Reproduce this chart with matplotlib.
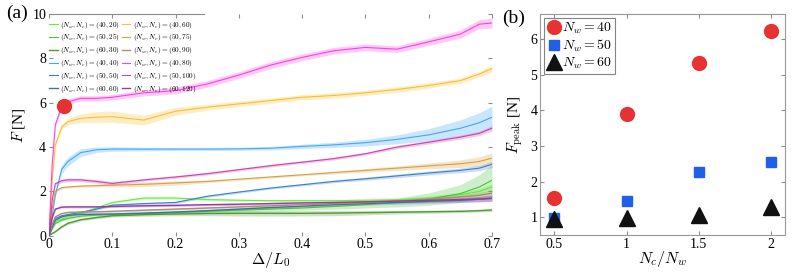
import matplotlib
matplotlib.use("Agg")
import matplotlib.pyplot as plt
import numpy as np

plt.rcParams['font.family'] = 'serif'
plt.rcParams['font.serif'] = ['Liberation Serif', 'DejaVu Serif']
plt.rcParams['mathtext.fontset'] = 'cm'

# ---- panel (a): force vs. displacement, mean curve +/- band ----
strain = [0, 0.005, 0.01, 0.02, 0.03, 0.05, 0.075, 0.1, 0.15, 0.2, 0.25,
          0.3, 0.35, 0.4, 0.45, 0.5, 0.55, 0.6, 0.65, 0.68, 0.7]

f_40_20 = [0, 0.35, 0.63, 0.75, 0.85, 1.0, 1.25, 1.5, 1.7, 1.7, 1.63,
           1.6, 1.58, 1.58, 1.58, 1.6, 1.62, 1.7, 1.85, 2.0, 2.2]
f_50_25 = [0, 0.3, 0.55, 0.7, 0.78, 0.88, 0.93, 0.96, 1.0, 1.05, 1.1,
           1.15, 1.2, 1.25, 1.32, 1.4, 1.5, 1.65, 1.9, 2.2, 2.5]
f_60_30 = [0, 0.1, 0.18, 0.4, 0.56, 0.72, 0.82, 0.9, 0.95, 0.98, 1.0,
           1.01, 1.01, 1.01, 1.02, 1.04, 1.06, 1.08, 1.1, 1.13, 1.16]
f_40_40 = [0, 0.9, 1.84, 3.0, 3.35, 3.75, 3.88, 3.91, 3.91, 3.91, 3.91,
           3.92, 3.95, 4.03, 4.1, 4.2, 4.35, 4.55, 4.85, 5.1, 5.35]
f_50_50 = [0, 0.4, 0.78, 0.9, 0.95, 1.05, 1.2, 1.38, 1.45, 1.5, 1.78,
           1.97, 2.15, 2.3, 2.45, 2.57, 2.7, 2.83, 2.95, 3.05, 3.22]
f_60_60 = [0, 0.4, 0.7, 0.85, 0.92, 0.96, 0.97, 0.98, 1.02, 1.07, 1.13,
           1.2, 1.27, 1.33, 1.4, 1.45, 1.5, 1.55, 1.6, 1.65, 1.7]
f_40_60 = [0, 2.5, 4.1, 4.9, 5.15, 5.3, 5.35, 5.37, 5.22, 5.62, 5.8,
           5.95, 6.1, 6.25, 6.33, 6.45, 6.6, 6.78, 7.0, 7.3, 7.55]
f_50_75 = [0, 1.2, 2.0, 2.17, 2.2, 2.24, 2.26, 2.28, 2.32, 2.38, 2.45,
           2.55, 2.65, 2.75, 2.85, 2.95, 3.05, 3.15, 3.25, 3.35, 3.5]
f_60_90 = [0, 0.5, 0.85, 1.0, 1.05, 1.07, 1.08, 1.1, 1.15, 1.2, 1.25,
           1.3, 1.35, 1.4, 1.45, 1.5, 1.57, 1.65, 1.75, 1.82, 1.92]
f_40_80 = [0, 3.2, 5.0, 5.85, 6.05, 6.2, 6.2, 6.25, 6.45, 6.55, 6.85,
           7.25, 7.7, 8.05, 8.35, 8.5, 8.42, 8.75, 9.1, 9.55, 9.6]
f_50_100 = [0, 1.6, 2.35, 2.48, 2.52, 2.52, 2.45, 2.36, 2.52, 2.65, 2.8,
            2.98, 3.16, 3.32, 3.48, 3.7, 4.0, 4.22, 4.45, 4.62, 4.85]
f_60_120 = [0, 0.8, 1.2, 1.29, 1.3, 1.3, 1.3, 1.32, 1.35, 1.37, 1.4,
            1.42, 1.45, 1.48, 1.5, 1.53, 1.56, 1.6, 1.63, 1.65, 1.68]

# half-width of the shaded bands
s_small = [0, 0.02, 0.03, 0.04, 0.05, 0.05, 0.05, 0.05, 0.05, 0.05, 0.05,
           0.05, 0.05, 0.05, 0.06, 0.07, 0.08, 0.09, 0.1, 0.12, 0.14]
s_50_25 = [0, 0.02, 0.03, 0.04, 0.05, 0.05, 0.05, 0.05, 0.05, 0.05, 0.06,
           0.07, 0.08, 0.1, 0.12, 0.15, 0.2, 0.28, 0.4, 0.55, 0.7]
s_60_30 = [0, 0.02, 0.03, 0.05, 0.06, 0.06, 0.06, 0.06, 0.07, 0.08, 0.1,
           0.12, 0.12, 0.12, 0.12, 0.1, 0.08, 0.07, 0.06, 0.06, 0.06]
s_40_40 = [0, 0.05, 0.1, 0.2, 0.2, 0.18, 0.12, 0.1, 0.08, 0.07, 0.07,
           0.07, 0.08, 0.1, 0.12, 0.15, 0.2, 0.28, 0.38, 0.45, 0.5]
s_40_60 = [0, 0.05, 0.1, 0.12, 0.15, 0.2, 0.25, 0.25, 0.22, 0.18, 0.13,
           0.12, 0.12, 0.12, 0.12, 0.12, 0.12, 0.12, 0.12, 0.13, 0.15]
s_50_75 = [0, 0.02, 0.04, 0.05, 0.05, 0.05, 0.06, 0.08, 0.1, 0.1, 0.06,
           0.05, 0.05, 0.05, 0.06, 0.08, 0.1, 0.13, 0.17, 0.21, 0.25]
s_40_80 = [0, 0.05, 0.1, 0.12, 0.12, 0.12, 0.12, 0.12, 0.14, 0.15, 0.15,
           0.15, 0.15, 0.15, 0.15, 0.15, 0.15, 0.16, 0.18, 0.2, 0.22]
s_50_100 = [0, 0.04, 0.06, 0.08, 0.08, 0.08, 0.08, 0.08, 0.06, 0.06, 0.06,
            0.06, 0.06, 0.06, 0.06, 0.06, 0.07, 0.08, 0.09, 0.1, 0.12]

curves = [
    ((40, 20), f_40_20, s_small, '#66ee33'),
    ((50, 25), f_50_25, s_50_25, '#4cc33a'),
    ((60, 30), f_60_30, s_60_30, '#4f9a2f'),
    ((40, 40), f_40_40, s_40_40, '#40a8f8'),
    ((50, 50), f_50_50, s_small, '#3a80d0'),
    ((60, 60), f_60_60, s_small, '#4070a8'),
    ((40, 60), f_40_60, s_40_60, '#f8c030'),
    ((50, 75), f_50_75, s_50_75, '#d8a040'),
    ((60, 90), f_60_90, s_small, '#a89070'),
    ((40, 80), f_40_80, s_40_80, '#ff40e0'),
    ((50, 100), f_50_100, s_50_100, '#d040b0'),
    ((60, 120), f_60_120, s_small, '#9a3aa0'),
]

first_peak = (0.024, 5.85)

# ---- panel (b): peak force ----
ratio = [0.5, 1, 1.5, 2]
peak_40 = [1.53, 3.9, 5.33, 6.23]
peak_50 = [0.98, 1.45, 2.26, 2.54]
peak_60 = [0.95, 0.97, 1.06, 1.29]

fig = plt.figure(figsize=(7.93, 2.74), dpi=100)
ax = fig.add_axes([0.0618, 0.1398, 0.5586, 0.8084])
bx = fig.add_axes([0.681, 0.1423, 0.309, 0.8066])

x = np.array(strain)
for (nw, nc), f, s, c in curves:
    f = np.array(f)
    s = np.array(s)
    ax.fill_between(x, f - s, f + s, color=c, alpha=0.28, lw=0)
for (nw, nc), f, s, c in curves:
    lw = 1.0 if nw == 60 else 0.8
    ax.plot(x, f, color=c, lw=lw,
            label=r'$(N_w, N_c) = (%d, %d)$' % (nw, nc))
ax.plot(*first_peak, 'o', color='#e63232', ms=10, zorder=5)

ax.set_xlim(0, 0.7)
ax.set_ylim(0, 10)
ax.set_xticks([0, 0.1, 0.2, 0.3, 0.4, 0.5, 0.6, 0.7])
ax.set_xticklabels(['0', '0.1', '0.2', '0.3', '0.4', '0.5', '0.6', '0.7'])
ax.set_yticks([0, 2, 4, 6, 8, 10])
for sp in ax.spines.values():
    sp.set_visible(False)
ax.tick_params(direction='in', top=True, right=True, length=3,
               color='0.55', labelsize=10, pad=2)
ax.axhline(10, xmin=0, xmax=0.35, color='0.55', lw=0.8, clip_on=False)
ax.set_xlabel(r'$\Delta/L_0$', fontsize=11.5, labelpad=-1)
ax.set_ylabel(r'$F$ [N]', fontsize=11, labelpad=4)
ax.legend(loc='upper left', bbox_to_anchor=(-0.005, 0.985), ncol=2,
          fontsize=5.2, frameon=False, handlelength=1.2, handletextpad=0.3,
          columnspacing=0.3, labelspacing=0.25, borderaxespad=0.1,
          borderpad=0.2)

bx.plot(ratio, peak_40, 'o', color='#e63232', ms=10, label=r'$N_w = 40$')
bx.plot(ratio, peak_50, 's', color='#1f60e6', ms=7.5, label=r'$N_w = 50$')
bx.plot(ratio, peak_60, '^', color='#111111', ms=11, label=r'$N_w = 60$')
bx.set_xlim(0.4, 2.1)
bx.set_ylim(0.5, 6.7)
bx.set_xticks(ratio)
bx.set_xticklabels(['0.5', '1', '1.5', '2'])
bx.set_yticks([1, 2, 3, 4, 5, 6])
for sp in bx.spines.values():
    sp.set_color('0.6')
    sp.set_linewidth(0.8)
bx.tick_params(direction='in', top=True, right=True, length=3,
               color='0.55', labelsize=10, pad=2)
bx.set_xlabel(r'$N_c/N_w$', fontsize=11.5, labelpad=-1)
bx.set_ylabel(r'$F_{\rm peak}$ [N]', fontsize=11, labelpad=4)
leg = bx.legend(loc='upper left', fontsize=10, handlelength=1.0,
                handletextpad=0.1, labelspacing=0.1, borderpad=0.2,
                borderaxespad=0.3, fancybox=False)
leg.get_frame().set_edgecolor('0.4')
leg.get_frame().set_linewidth(0.8)

fig.text(0.008, 0.935, '(a)', fontsize=14)
fig.text(0.633, 0.915, '(b)', fontsize=14)

fig.savefig('out.png', dpi=100)
